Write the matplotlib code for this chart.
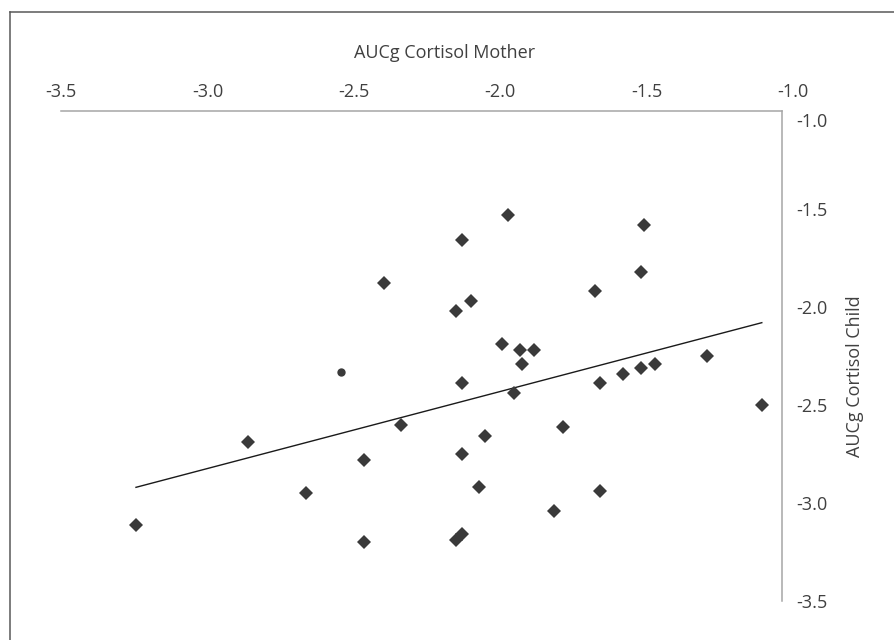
import matplotlib
matplotlib.use("Agg")
import matplotlib.pyplot as plt
from matplotlib.lines import Line2D
from matplotlib.transforms import ScaledTranslation

plt.rcParams["font.family"] = ["Open Sans", "DejaVu Sans"]
plt.rcParams["axes.unicode_minus"] = False

# AUCg cortisol values (mother, child)
mother = [-1.95, -2.11, -1.48, -1.49, -1.65, -2.08, -2.13, -1.97, -1.91, -1.86,
          -1.26, -2.38, -2.85, -2.32, -2.45, -2.65, -3.24, -2.45, -1.90, -2.11,
          -1.93, -1.63, -1.55, -1.49, -1.44, -1.07, -1.76, -2.03, -2.11, -2.05,
          -1.63, -1.79, -2.11, -2.13]
child = [-1.53, -1.66, -1.58, -1.82, -1.92, -1.97, -2.02, -2.19, -2.22, -2.22,
         -2.25, -1.88, -2.69, -2.60, -2.78, -2.95, -3.11, -3.20, -2.29, -2.39,
         -2.44, -2.39, -2.34, -2.31, -2.29, -2.50, -2.61, -2.66, -2.75, -2.92,
         -2.94, -3.04, -3.16, -3.19]

# single point drawn as a small circle
extra_x = [-2.53]
extra_y = [-2.33]

# linear trend line endpoints
trend_x = [-3.24, -1.07]
trend_y = [-2.92, -2.08]

ticks = [-3.5, -3.0, -2.5, -2.0, -1.5, -1.0]
text_color = "#404040"
mark_color = "#3a3a3a"

fig = plt.figure(figsize=(8.95, 6.4), dpi=100)
ax = fig.add_axes([61 / 895, 1 - 601 / 640, 721 / 895, 490 / 640])

ax.plot(trend_x, trend_y, color="#1a1a1a", lw=1.0, zorder=2)
ax.plot(mother, child, "D", ms=7.2, color=mark_color, mew=0, zorder=3)
ax.plot(extra_x, extra_y, "o", ms=6, color=mark_color, mew=0, zorder=3)

ax.set_xlim(-3.5, -1.0)
ax.set_ylim(-3.5, -1.0)
ax.set_xticks(ticks)
ax.set_yticks(ticks)
ax.set_xticklabels([f"{t:.1f}" for t in ticks])
ax.set_yticklabels([f"{t:.1f}" for t in ticks])

ax.xaxis.tick_top()
ax.yaxis.tick_right()
ax.tick_params(axis="x", length=0, pad=7, labelsize=13, colors=text_color)
ax.tick_params(axis="y", length=0, pad=10, labelsize=13, colors=text_color)

# excel spreads the top labels a little wider than the axis line
for t, lab in zip(ticks, ax.get_xticklabels()):
    dx = (t + 3.5) * 4.4 / 100
    lab.set_transform(lab.get_transform() + ScaledTranslation(dx, 0, fig.dpi_scale_trans))
# top label on the right axis is pushed down to clear the x label
top_lab = ax.get_yticklabels()[-1]
top_lab.set_transform(top_lab.get_transform() + ScaledTranslation(0, -0.09, fig.dpi_scale_trans))

for side in ["left", "bottom"]:
    ax.spines[side].set_visible(False)
for side in ["top", "right"]:
    ax.spines[side].set_color("#a6a6a6")
    ax.spines[side].set_linewidth(1.1)

fig.text(444.5 / 895, 1 - 53 / 640, "AUCg Cortisol Mother", ha="center",
         va="center", fontsize=13, color=text_color)
fig.text(855 / 895, 1 - 376 / 640, "AUCg Cortisol Child", ha="center",
         va="center", rotation=90, fontsize=13, color=text_color)

# chart frame (only left and top edges are inside the picture)
fig.add_artist(Line2D([10 / 895, 10 / 895], [0, 1 - 12 / 640], color="#595959", lw=1.1))
fig.add_artist(Line2D([10 / 895, 1], [1 - 12 / 640, 1 - 12 / 640], color="#595959", lw=1.1))

fig.savefig("out.png", dpi=100)
